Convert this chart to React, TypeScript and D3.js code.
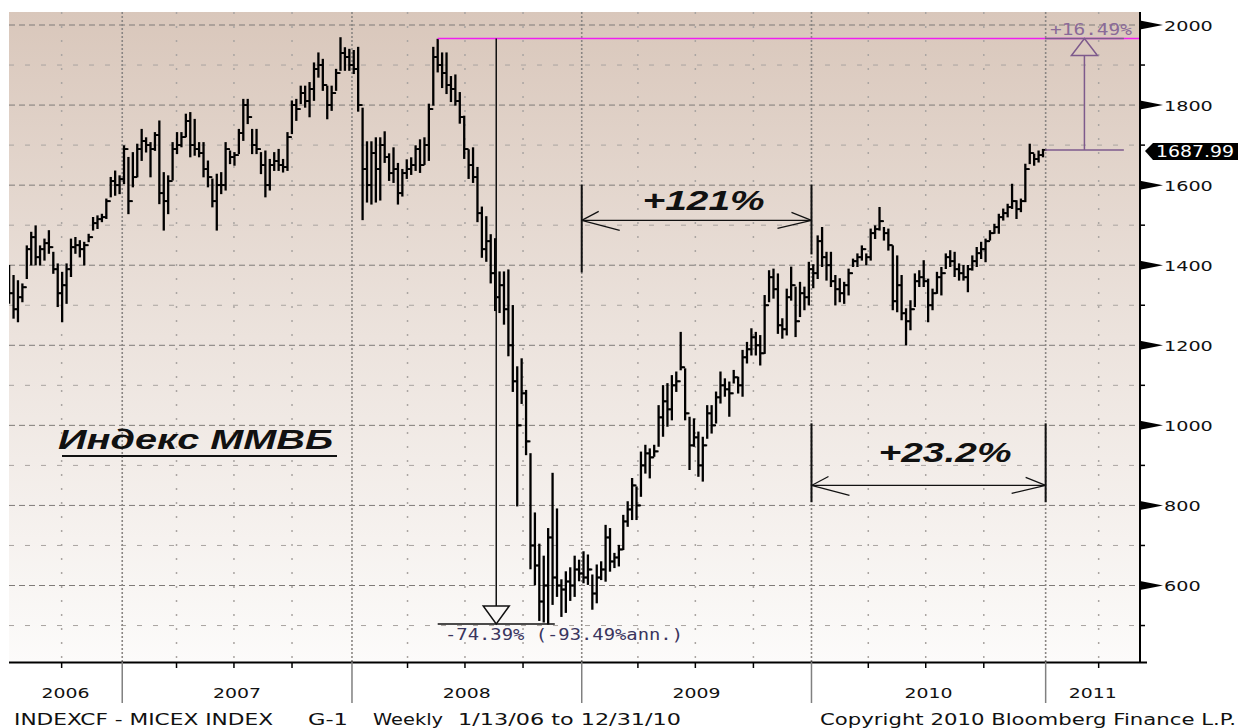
import React from "react";
import * as d3 from "d3";

type Bar = [number, number, number]; // high, low, close

// Weekly MICEX bars (high, low, close); first visible week = 2006-07-07
const bars2006: Bar[] = [
  [1398, 1306, 1330], [1373, 1269, 1290], [1360, 1260, 1320], [1352, 1310, 1345], [1447, 1368, 1440],
  [1481, 1402, 1470], [1497, 1402, 1420], [1447, 1402, 1440], [1464, 1414, 1455], [1485, 1431, 1445],
  [1431, 1381, 1390], [1402, 1298, 1330], [1381, 1260, 1350], [1402, 1306, 1390], [1464, 1373, 1445],
  [1468, 1431, 1450], [1460, 1422, 1440], [1456, 1402, 1450], [1476, 1460, 1470], [1518, 1489, 1505],
  [1522, 1493, 1515], [1526, 1510, 1520], [1564, 1518, 1560], [1618, 1572, 1610], [1634, 1576, 1600],
  [1622, 1580, 1615],
];
const bars2007: Bar[] = [
  [1697, 1605, 1690], [1668, 1530, 1560], [1680, 1597, 1620], [1701, 1622, 1690], [1738, 1663, 1710],
  [1717, 1684, 1700], [1705, 1622, 1690], [1730, 1688, 1725], [1759, 1555, 1580], [1630, 1489, 1560],
  [1622, 1530, 1610], [1705, 1614, 1690], [1730, 1680, 1700], [1730, 1697, 1720], [1776, 1722, 1760],
  [1780, 1672, 1700], [1763, 1676, 1690], [1705, 1672, 1680], [1705, 1622, 1640], [1659, 1597, 1620],
  [1614, 1547, 1560], [1626, 1489, 1600], [1630, 1580, 1600], [1705, 1589, 1690], [1684, 1655, 1670],
  [1680, 1651, 1675], [1738, 1680, 1730], [1813, 1713, 1800], [1813, 1755, 1770], [1738, 1680, 1700],
  [1738, 1680, 1690], [1680, 1630, 1650], [1684, 1572, 1600], [1663, 1589, 1650], [1680, 1638, 1660],
  [1688, 1638, 1650], [1663, 1634, 1645], [1730, 1638, 1720], [1809, 1730, 1800], [1813, 1763, 1790],
  [1846, 1805, 1830], [1846, 1796, 1810], [1855, 1772, 1840], [1904, 1813, 1890], [1929, 1871, 1900],
  [1913, 1838, 1850], [1846, 1767, 1800], [1846, 1788, 1830], [1888, 1838, 1880], [1967, 1888, 1930],
  [1942, 1888, 1920], [1938, 1888, 1900],
];
const bars2008: Bar[] = [
  [1935, 1880, 1890], [1943, 1786, 1800], [1791, 1515, 1640], [1707, 1559, 1600], [1707, 1554, 1680],
  [1717, 1559, 1640], [1717, 1564, 1700], [1732, 1658, 1670], [1677, 1613, 1630], [1692, 1608, 1640],
  [1653, 1554, 1580], [1638, 1574, 1630], [1662, 1618, 1640], [1667, 1628, 1650], [1697, 1638, 1690],
  [1712, 1633, 1650], [1717, 1653, 1700], [1801, 1663, 1790], [1943, 1801, 1920], [1963, 1884, 1900],
  [1929, 1845, 1880], [1929, 1830, 1850], [1870, 1810, 1840], [1874, 1801, 1810], [1830, 1756, 1770],
  [1771, 1668, 1690], [1687, 1618, 1650], [1692, 1608, 1620], [1643, 1510, 1530], [1544, 1421, 1440],
  [1520, 1411, 1460], [1475, 1357, 1380], [1465, 1288, 1320], [1382, 1283, 1350], [1382, 1254, 1290],
  [1387, 1175, 1200], [1298, 1086, 1110], [1145, 800, 1000], [1165, 1056, 1080], [1086, 928, 960],
  [928, 643, 700], [780, 603, 650], [702, 514, 560], [672, 510, 600], [741, 505, 720],
  [879, 554, 620], [790, 574, 600], [613, 524, 590], [633, 534, 610], [643, 564, 600],
  [672, 574, 640], [662, 613, 630],
];
const bars2009: Bar[] = [
  [683, 608, 620], [675, 604, 640], [625, 542, 580], [650, 558, 620], [658, 616, 640],
  [749, 612, 720], [741, 637, 660], [679, 646, 670], [699, 650, 690], [774, 691, 760],
  [808, 749, 790], [866, 766, 850], [845, 766, 800], [932, 824, 900], [949, 882, 930],
  [940, 870, 920], [949, 924, 935], [1048, 949, 1020], [1098, 974, 1060], [1103, 999, 1040],
  [1123, 1015, 1100], [1132, 1086, 1110], [1231, 1140, 1145], [1140, 1015, 1030], [1019, 891, 950],
  [1015, 949, 970], [982, 874, 900], [969, 862, 950], [1048, 969, 1030], [1048, 982, 1000],
  [1082, 1007, 1070], [1132, 1057, 1100], [1115, 1074, 1090], [1107, 1024, 1080], [1136, 1107, 1120],
  [1119, 1082, 1100], [1186, 1074, 1170], [1206, 1157, 1190], [1240, 1177, 1220], [1231, 1177, 1200],
  [1223, 1152, 1180], [1323, 1181, 1300], [1385, 1310, 1370], [1389, 1319, 1340], [1377, 1231, 1250],
  [1265, 1219, 1240], [1339, 1227, 1320], [1394, 1314, 1350], [1344, 1223, 1260], [1356, 1273, 1330],
  [1344, 1290, 1320], [1406, 1302, 1390],
];
const bars2010: Bar[] = [
  [1400, 1345, 1380], [1472, 1368, 1460], [1493, 1398, 1420], [1431, 1364, 1400], [1431, 1348, 1360],
  [1373, 1302, 1340], [1365, 1310, 1330], [1356, 1306, 1350], [1389, 1327, 1380], [1414, 1398, 1410],
  [1427, 1398, 1420], [1447, 1414, 1440], [1427, 1402, 1420], [1489, 1414, 1480], [1497, 1468, 1490],
  [1543, 1489, 1510], [1493, 1464, 1480], [1489, 1439, 1450], [1447, 1290, 1310], [1422, 1285, 1350],
  [1373, 1265, 1280], [1290, 1202, 1260], [1310, 1240, 1290], [1377, 1298, 1360], [1385, 1348, 1370],
  [1410, 1348, 1360], [1364, 1260, 1300], [1339, 1290, 1330], [1381, 1331, 1370], [1393, 1327, 1380],
  [1427, 1393, 1420], [1435, 1398, 1410], [1431, 1373, 1390], [1402, 1364, 1380], [1398, 1364, 1370],
  [1398, 1335, 1390], [1422, 1389, 1410], [1443, 1398, 1430], [1456, 1418, 1440], [1464, 1410, 1460],
  [1485, 1464, 1480], [1501, 1481, 1495], [1526, 1481, 1520], [1539, 1514, 1530], [1551, 1522, 1545],
  [1601, 1543, 1560], [1560, 1518, 1540], [1564, 1535, 1560], [1651, 1560, 1640], [1701, 1655, 1680],
  [1676, 1651, 1665], [1684, 1659, 1675], [1688, 1672, 1688],
];

const firstWeekIndex = -26; // week index of 2006-07-07 relative to 2007-01-05
const yearLabels = ["2006", "2007", "2008", "2009", "2010", "2011"];
const yearFirstWeek = [0, 52, 104, 156, 209]; // first weekly bar of 2007..2011
const quarterDates = [
  "2006-10-01",
  "2007-04-01", "2007-07-01", "2007-10-01",
  "2008-04-01", "2008-07-01", "2008-10-01",
  "2009-04-01", "2009-07-01", "2009-10-01",
  "2010-04-01", "2010-07-01", "2010-10-01",
  "2011-04-01",
];
const yMajorTicks = [600, 800, 1000, 1200, 1400, 1600, 1800, 2000];
const yMinorTicks = [500, 700, 900, 1100, 1300, 1500, 1700, 1900];
const lastPrice = 1687.99;
const peakValue = 1966.3;
const troughValue = 504;
const dropStartWeek = 71;
const dropEndWeek = 97.5;
const riseStartWeek = 208.45;
const riseEndWeek = 226.3;
const rally1 = { from: 1601, leftTo: 1382, rightTo: 1427, arrow: 1512, label: "+121%" };
const rally2 = { from: 1005, to: 808, arrow: 850, label: "+23.2%" };

const PL = 9, PR = 1140, PT = 12, PB = 662;
const REF = Date.UTC(2007, 0, 5);

export default function App() {
  const x = d3.scaleLinear().domain([0, 208]).range([124, 1043]);
  const y = d3.scaleLinear().domain([600, 2000]).range([585.5, 25]);
  const weekOf = (s: string) => {
    const [yy, mm, dd] = s.split("-").map(Number);
    return (Date.UTC(yy, mm - 1, dd) - REF) / (7 * 864e5);
  };
  const bars = [...bars2006, ...bars2007, ...bars2008, ...bars2009, ...bars2010].map((b, k) => ({
    idx: firstWeekIndex + k, high: b[0], low: b[1], close: b[2],
  }));
  const boundaries = yearFirstWeek.map((w) => x(w - 0.4));
  const segEdges = [PL, ...boundaries, PR];
  const quarterX = quarterDates.map((d) => x(weekOf(d) - 0.4));

  const font = "'DejaVu Sans', Verdana, sans-serif";
  const boldItalic = { fontFamily: "'Liberation Sans', Arial, sans-serif", fontWeight: 700, fontStyle: "italic" as const };

  const dX1 = x(dropStartWeek), dX2 = x(dropEndWeek), dXm = (dX1 + dX2) / 2;
  const rX1 = x(riseStartWeek), rX2 = x(riseEndWeek), rXm = (rX1 + rX2) / 2;
  const yPeak = y(peakValue), yTrough = y(troughValue), yLast = y(lastPrice);

  const b09 = boundaries[2], b10 = boundaries[3], b11 = boundaries[4];
  const a1 = y(rally1.arrow), a2 = y(rally2.arrow);

  const arrowHeads = (xl: number, xr: number, ya: number) => (
    <g stroke="#111" strokeWidth={1.2} fill="none">
      <line x1={xl} y1={ya} x2={xl + 17} y2={ya - 9} />
      <line x1={xl} y1={ya} x2={xl + 38} y2={ya + 10} />
      <line x1={xr} y1={ya} x2={xr - 20} y2={ya - 8} />
      <line x1={xr} y1={ya} x2={xr - 34} y2={ya + 8} />
    </g>
  );

  return (
    <svg width={1238} height={728} style={{ position: "absolute", left: 0, top: 0, background: "#fff" }}>
      <defs>
        <linearGradient id="bg" x1="0" y1="0" x2="0" y2="1">
          <stop offset="0" stopColor="rgb(217,199,187)" />
          <stop offset="0.5" stopColor="rgb(236,227,221)" />
          <stop offset="1" stopColor="rgb(252,251,250)" />
        </linearGradient>
        <clipPath id="plot">
          <rect x={PL} y={PT} width={PR - PL} height={PB - PT} />
        </clipPath>
      </defs>
      <rect x={PL} y={PT} width={PR - PL} height={PB - PT} fill="url(#bg)" />

      {/* grid */}
      <g clipPath="url(#plot)">
        {yMinorTicks.map((v) => (
          <line key={"mn" + v} x1={PL} x2={PR} y1={y(v)} y2={y(v)} stroke="#a9a4a0" strokeWidth={1} strokeDasharray="5,11" />
        ))}
        {yMajorTicks.map((v) => (
          <line key={"mj" + v} x1={PL} x2={PR} y1={y(v)} y2={y(v)} stroke="#7f7b78" strokeWidth={1} strokeDasharray="6,4" />
        ))}
        {quarterX.map((qx, k) => (
          <line key={"q" + k} x1={qx} x2={qx} y1={PT} y2={PB} stroke="#aaa5a2" strokeWidth={1.5} strokeDasharray="2,12" />
        ))}
        {boundaries.map((bx, k) => (
          <line key={"b" + k} x1={bx} x2={bx} y1={PT} y2={PB} stroke="#8a8683" strokeWidth={1.6} strokeDasharray="2,2" />
        ))}
      </g>

      {/* OHLC bars */}
      <g clipPath="url(#plot)" stroke="#000" fill="none">
        {bars.map((b, k) => {
          const bx = x(b.idx);
          const open = k > 0 ? bars[k - 1].close : b.close;
          return (
            <g key={k}>
              <line x1={bx} x2={bx} y1={y(b.high) - 1} y2={y(b.low) + 1} strokeWidth={2.3} />
              <line x1={bx - 3.5} x2={bx} y1={y(open)} y2={y(open)} strokeWidth={1.8} />
              <line x1={bx} x2={bx + 3.5} y1={y(b.close)} y2={y(b.close)} strokeWidth={1.8} />
            </g>
          );
        })}
      </g>

      {/* drawdown tool */}
      <line x1={dX1} x2={PR} y1={yPeak} y2={yPeak} stroke="#f020f0" strokeWidth={1.6} />
      <line x1={dX1} x2={dX2} y1={yTrough} y2={yTrough} stroke="#111" strokeWidth={1.5} />
      <line x1={dXm} x2={dXm} y1={yPeak} y2={yTrough - 18} stroke="#111" strokeWidth={1.5} />
      <polygon points={`${dXm - 13},${yTrough - 18} ${dXm + 13},${yTrough - 18} ${dXm},${yTrough}`} fill="none" stroke="#111" strokeWidth={1.5} />
      <text x={445} y={640} fontFamily="'DejaVu Sans Mono', monospace" fontSize={16} fill="#3a355e" textLength={238} lengthAdjust="spacingAndGlyphs">
        -74.39% (-93.49%ann.)
      </text>

      {/* rise tool */}
      <g stroke="#7d5a8c" strokeWidth={1.5} fill="none">
        <line x1={rX1} x2={rX2} y1={yLast} y2={yLast} />
        <line x1={rX1} x2={rX2} y1={yPeak} y2={yPeak} />
        <line x1={rXm} x2={rXm} y1={yLast} y2={yPeak + 17} />
        <polygon points={`${rXm - 13},${yPeak + 17} ${rXm + 13},${yPeak + 17} ${rXm},${yPeak}`} />
      </g>
      <text x={1050} y={35} fontFamily="'DejaVu Sans Mono', monospace" fontSize={16} fill="#8a6a98" textLength={82} lengthAdjust="spacingAndGlyphs">
        +16.49%
      </text>

      {/* +121% measure */}
      <g stroke="#111" strokeWidth={2}>
        <line x1={b09} x2={b09} y1={y(rally1.from)} y2={y(rally1.leftTo)} />
        <line x1={b10} x2={b10} y1={y(rally1.from)} y2={y(rally1.rightTo)} />
        <line x1={b09} x2={b10} y1={a1} y2={a1} strokeWidth={1.4} />
      </g>
      {arrowHeads(b09, b10, a1)}
      <text x={(b09 + b10) / 2 + 7} y={210} textAnchor="middle" fontSize={28} fill="#111" {...boldItalic} textLength={122} lengthAdjust="spacingAndGlyphs">
        {rally1.label}
      </text>

      {/* +23.2% measure */}
      <g stroke="#111" strokeWidth={2}>
        <line x1={b10} x2={b10} y1={y(rally2.from)} y2={y(rally2.to)} />
        <line x1={b11} x2={b11} y1={y(rally2.from)} y2={y(rally2.to)} />
        <line x1={b10} x2={b11} y1={a2} y2={a2} strokeWidth={1.4} />
      </g>
      {arrowHeads(b10, b11, a2)}
      <text x={945} y={462} textAnchor="middle" fontSize={28} fill="#111" {...boldItalic} textLength={133} lengthAdjust="spacingAndGlyphs">
        {rally2.label}
      </text>

      {/* title */}
      <text x={58} y={449} fontSize={28} fill="#111" {...boldItalic} textLength={275} lengthAdjust="spacingAndGlyphs">
        Индекс ММВБ
      </text>
      <line x1={62} x2={337} y1={456} y2={456} stroke="#111" strokeWidth={2} />

      {/* right axis */}
      <line x1={PR} x2={PR} y1={PT} y2={PB + 1} stroke="#000" strokeWidth={2} />
      {yMinorTicks.filter((v) => y(v) < PB).map((v) => (
        <line key={"mt" + v} x1={PR} x2={PR + 5} y1={y(v)} y2={y(v)} stroke="#000" strokeWidth={1.5} />
      ))}
      {yMajorTicks.map((v) => (
        <g key={"yt" + v}>
          <polygon points={`${PR},${y(v) - 4.5} ${PR},${y(v) + 4.5} ${PR + 23},${y(v)}`} fill="#000" />
          <text x={1164} y={y(v) + 5.5} fontFamily={font} fontSize={14} fill="#111" textLength={String(v).length * 12.2} lengthAdjust="spacingAndGlyphs">
            {v}
          </text>
        </g>
      ))}
      <path d={`M${PR + 5},${yLast + 1} L${PR + 13},${yLast - 7} L1238,${yLast - 7} L1238,${yLast + 10} L${PR + 13},${yLast + 10} Z`} fill="#000" />
      <text x={1156} y={yLast + 7} fontFamily={font} fontSize={15} fill="#fff" textLength={78} lengthAdjust="spacingAndGlyphs">
        {lastPrice.toFixed(2)}
      </text>

      {/* bottom axis */}
      <line x1={PL} x2={PR + 7} y1={PB + 0.5} y2={PB + 0.5} stroke="#000" strokeWidth={2} />
      {quarterX.map((qx, k) => (
        <line key={"qt" + k} x1={qx} x2={qx} y1={PB} y2={PB + 6} stroke="#000" strokeWidth={1.5} />
      ))}
      {boundaries.map((bx, k) => (
        <line key={"bt" + k} x1={bx} x2={bx} y1={PB} y2={703} stroke="#808080" strokeWidth={1.5} />
      ))}
      {yearLabels.map((lab, k) => (
        <text key={lab} x={(segEdges[k] + segEdges[k + 1]) / 2} y={698} textAnchor="middle" fontFamily={font} fontSize={14} fill="#111" textLength={48} lengthAdjust="spacingAndGlyphs">
          {lab}
        </text>
      ))}

      {/* footer */}
      <g fontFamily={font} fontSize={15} fill="#111">
        <text x={14} y={725} textLength={259} lengthAdjust="spacingAndGlyphs">INDEXCF - MICEX INDEX</text>
        <text x={308} y={725} textLength={40} lengthAdjust="spacingAndGlyphs">G-1</text>
        <text x={373} y={725} textLength={70} lengthAdjust="spacingAndGlyphs">Weekly</text>
        <text x={458} y={725} textLength={223} lengthAdjust="spacingAndGlyphs">1/13/06 to 12/31/10</text>
        <text x={820} y={725} textLength={416} lengthAdjust="spacingAndGlyphs">Copyright 2010 Bloomberg Finance L.P.</text>
      </g>
    </svg>
  );
}
